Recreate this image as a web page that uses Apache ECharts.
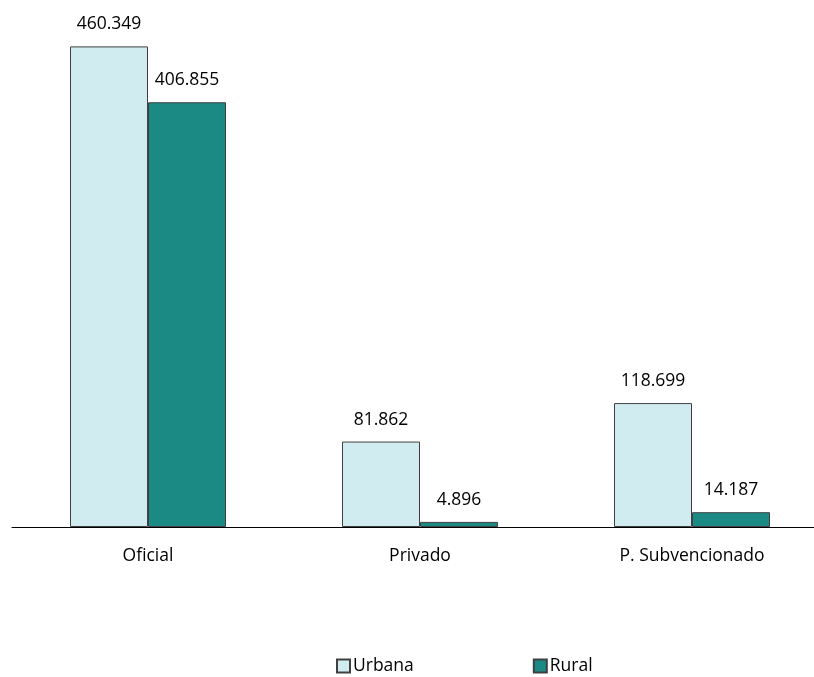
<!DOCTYPE html>
<html><head><meta charset="utf-8">
<script src="https://cdn.jsdelivr.net/npm/echarts@6/dist/echarts.min.js"></script>
<style>html,body{margin:0;padding:0;background:#fff;overflow:hidden}#c{width:830px;height:677px}</style>
</head><body><div id="c"></div>
<script>
const categories = ['Oficial', 'Privado', 'P. Subvencionado'];
const urbana = [460349, 81862, 118699];
const rural = [406855, 4896, 14187];
const seriesNames = ['Urbana', 'Rural'];

const fmt = v => String(v).replace(/\B(?=(\d{3})+(?!\d))/g, '.');
const font = 'Open Sans';
const chart = echarts.init(document.getElementById('c'));
const lbl = {show: true, position: 'top', distance: 13, color: '#000', fontSize: 17.5, fontFamily: font,
  formatter: p => fmt(p.value)};
chart.setOption({
  animation: false,
  grid: {left: 12, right: 2, top: 5, bottom: 150, containLabel: false},
  legend: {bottom: -3, left: 331, itemWidth: 13, itemHeight: 13, itemGap: 119, icon: 'rect',
    textStyle: {fontSize: 17.5, fontFamily: font, color: '#000', padding: [0, 0, 0, -2]}, data: seriesNames},
  xAxis: {type: 'category', data: categories,
    axisLine: {lineStyle: {color: '#000', width: 1}}, axisTick: {show: false},
    axisLabel: {color: '#000', fontSize: 17.5, fontFamily: font, margin: 20}},
  yAxis: {type: 'value', min: 0, max: 500000, show: false, splitLine: {show: false}},
  series: [
    {name: seriesNames[0], type: 'bar', data: urbana, barWidth: 78, barGap: '0%',
      itemStyle: {color: '#D0ECF0', borderColor: '#404040', borderWidth: 1}, label: lbl},
    {name: seriesNames[1], type: 'bar', data: rural, barWidth: 78,
      itemStyle: {color: '#1B8A85', borderColor: '#404040', borderWidth: 1}, label: lbl}
  ]
});
</script></body></html>
